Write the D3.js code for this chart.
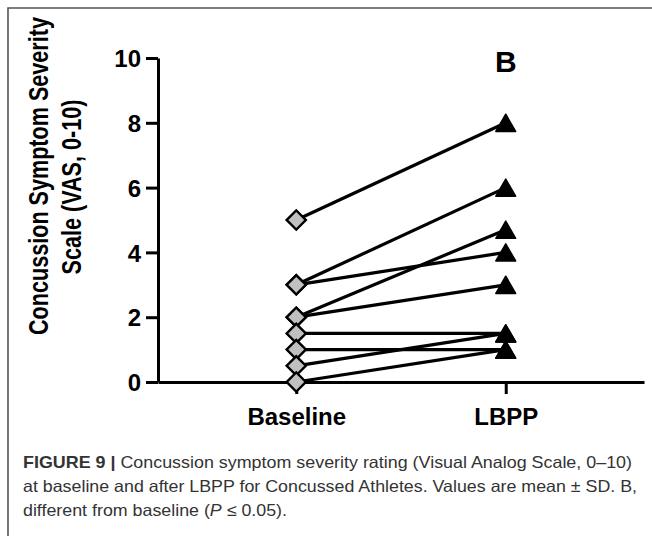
<!DOCTYPE html>
<html>
<head>
<meta charset="utf-8">
<script src="https://cdn.jsdelivr.net/npm/d3@7"></script>
<style>
  body { margin: 0; background: #fff; }
  svg { display: block; }
  text { font-family: "Liberation Sans", Arial, Helvetica, sans-serif; }
</style>
</head>
<body>
<div id="chart"></div>
<script>
// data: one pair per athlete
const groups = ["Baseline", "LBPP"];
const baselineValues = [5, 3, 3, 2, 2, 1.5, 1, 0.5, 0];
const lbppValues = [8, 6, 4, 4.7, 3, 1.5, 1, 1.5, 1];
const yTicks = [0, 2, 4, 6, 8, 10];
const yTitle = ["Concussion Symptom Severity", "Scale (VAS, 0-10)"];
const sigLabel = "B";

const width = 652, height = 536;
const plot = { left: 158, right: 644, top: 58, bottom: 382 };

const svg = d3.select("#chart").append("svg")
    .attr("width", width)
    .attr("height", height);

// frame of the figure box (only top and left edges are in view)
svg.append("path")
    .attr("d", `M8,${height} L8,8 L${width},8`)
    .attr("fill", "none")
    .attr("stroke", "#555")
    .attr("stroke-width", 1.6);

const x = d3.scalePoint()
    .domain(groups)
    .range([plot.left, plot.right])
    .padding(0.66);

const y = d3.scaleLinear()
    .domain([0, 10])
    .range([plot.bottom, plot.top]);

// y axis
const yAxis = svg.append("g")
    .attr("transform", `translate(${plot.left},0)`)
    .call(d3.axisLeft(y).tickValues(yTicks).tickSize(12).tickPadding(5).tickSizeOuter(0));
yAxis.select(".domain").attr("stroke", "#000").attr("stroke-width", 3);
yAxis.selectAll(".tick line").attr("stroke", "#000").attr("stroke-width", 3);
yAxis.selectAll(".tick text")
    .attr("fill", "#000")
    .style("font-size", "24px")
    .style("font-weight", "bold")
    .attr("dy", "0.36em");

// x axis
const xAxis = svg.append("g")
    .attr("transform", `translate(0,${plot.bottom})`)
    .call(d3.axisBottom(x).tickSize(12).tickPadding(14).tickSizeOuter(0));
xAxis.select(".domain").attr("stroke", "#000").attr("stroke-width", 3);
xAxis.selectAll(".tick line").attr("stroke", "#000").attr("stroke-width", 3);
xAxis.selectAll(".tick text")
    .attr("fill", "#000")
    .style("font-size", "24px")
    .style("font-weight", "bold");

// y axis title, two lines, narrow bold face
const titleG = svg.append("g");
titleG.selectAll("text")
    .data(yTitle)
    .join("text")
    .attr("transform", (d, i) => `translate(${48 + i * 33},${176 + i * 11}) rotate(-90) scale(0.8,1)`)
    .attr("text-anchor", "middle")
    .style("font-size", "27px")
    .style("font-weight", "bold")
    .attr("fill", "#000")
    .text(d => d);

// paired lines
const pairs = baselineValues.map((b, i) => ({ b: b, a: lbppValues[i] }));
svg.append("g")
    .selectAll("line")
    .data(pairs)
    .join("line")
    .attr("x1", x(groups[0]))
    .attr("y1", d => y(d.b))
    .attr("x2", x(groups[1]))
    .attr("y2", d => y(d.a))
    .attr("stroke", "#000")
    .attr("stroke-width", 3.2);

// baseline diamonds (rotated squares)
svg.append("g")
    .selectAll("path")
    .data(baselineValues)
    .join("path")
    .attr("d", d3.symbol(d3.symbolSquare, 185))
    .attr("transform", d => `translate(${x(groups[0])},${y(d)}) rotate(45)`)
    .attr("fill", "#c0c0c0")
    .attr("stroke", "#000")
    .attr("stroke-width", 2.4);

// LBPP triangles, centred on their bounding box
const triangleBox = {
    draw(context, size) {
        const s = Math.sqrt(size * 4 / Math.sqrt(3));
        const h = s * Math.sqrt(3) / 2;
        context.moveTo(0, -h / 2);
        context.lineTo(s / 2, h / 2);
        context.lineTo(-s / 2, h / 2);
        context.closePath();
    }
};
svg.append("g")
    .selectAll("path")
    .data(lbppValues)
    .join("path")
    .attr("d", d3.symbol(triangleBox, 170))
    .attr("transform", d => `translate(${x(groups[1])},${y(d)})`)
    .attr("fill", "#000")
    .attr("stroke", "#000")
    .attr("stroke-width", 1.5)
    .attr("stroke-linejoin", "round");

// significance letter
svg.append("text")
    .attr("x", x(groups[1]))
    .attr("y", 72)
    .attr("text-anchor", "middle")
    .style("font-size", "30px")
    .style("font-weight", "bold")
    .attr("fill", "#000")
    .text(sigLabel);

// caption
const cap = svg.append("g").attr("fill", "#333").style("font-size", "16.5px");
const l1 = cap.append("text").attr("x", 23).attr("y", 468)
    .attr("textLength", 609).attr("lengthAdjust", "spacingAndGlyphs");
l1.append("tspan").style("font-weight", "bold").text("FIGURE 9 |");
l1.append("tspan").text(" Concussion symptom severity rating (Visual Analog Scale, 0\u201310)");
cap.append("text").attr("x", 23).attr("y", 492)
    .attr("textLength", 614).attr("lengthAdjust", "spacingAndGlyphs")
    .text("at baseline and after LBPP for Concussed Athletes. Values are mean \u00b1 SD. B,");
const l3 = cap.append("text").attr("x", 23).attr("y", 516)
    .attr("textLength", 264).attr("lengthAdjust", "spacingAndGlyphs");
l3.append("tspan").text("different from baseline (");
l3.append("tspan").style("font-style", "italic").text("P");
l3.append("tspan").text(" \u2264 0.05).");
</script>
</body>
</html>
